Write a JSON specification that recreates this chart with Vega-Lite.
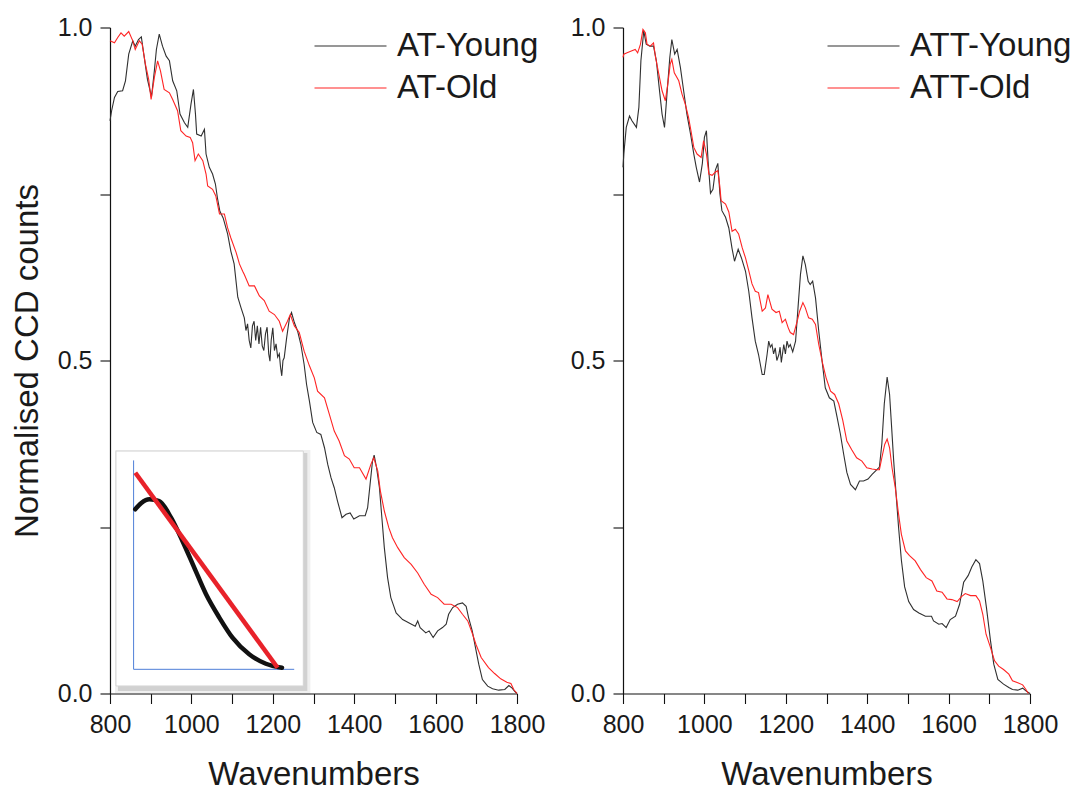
{
  "$schema": "https://vega.github.io/schema/vega-lite/v6.json",
  "background": "white",
  "padding": {"left": 11, "top": 15.5, "right": 5, "bottom": 0},
  "autosize": {"type": "pad"},
  "bounds": "flush",
  "spacing": 106,
  "datasets": {
    "at": [
      {"w":800,"v":0.86,"s":"AT-Young"},{"w":804,"v":0.875,"s":"AT-Young"},{"w":811,"v":0.895,"s":"AT-Young"},{"w":819,"v":0.904,"s":"AT-Young"},{"w":831,"v":0.905,"s":"AT-Young"},{"w":838,"v":0.92,"s":"AT-Young"},{"w":846,"v":0.96,"s":"AT-Young"},{"w":856,"v":0.98,"s":"AT-Young"},{"w":862,"v":0.972,"s":"AT-Young"},{"w":870,"v":0.982,"s":"AT-Young"},{"w":877,"v":0.986,"s":"AT-Young"},{"w":883,"v":0.96,"s":"AT-Young"},{"w":892,"v":0.922,"s":"AT-Young"},{"w":902,"v":0.896,"s":"AT-Young"},{"w":909,"v":0.935,"s":"AT-Young"},{"w":914,"v":0.967,"s":"AT-Young"},{"w":921,"v":0.99,"s":"AT-Young"},{"w":929,"v":0.972,"s":"AT-Young"},{"w":938,"v":0.957,"s":"AT-Young"},{"w":946,"v":0.95,"s":"AT-Young"},{"w":954,"v":0.92,"s":"AT-Young"},{"w":964,"v":0.905,"s":"AT-Young"},{"w":972,"v":0.87,"s":"AT-Young"},{"w":983,"v":0.857,"s":"AT-Young"},{"w":991,"v":0.85,"s":"AT-Young"},{"w":999,"v":0.885,"s":"AT-Young"},{"w":1005,"v":0.907,"s":"AT-Young"},{"w":1010,"v":0.87,"s":"AT-Young"},{"w":1013,"v":0.84,"s":"AT-Young"},{"w":1024,"v":0.837,"s":"AT-Young"},{"w":1032,"v":0.847,"s":"AT-Young"},{"w":1036,"v":0.81,"s":"AT-Young"},{"w":1044,"v":0.79,"s":"AT-Young"},{"w":1052,"v":0.78,"s":"AT-Young"},{"w":1059,"v":0.765,"s":"AT-Young"},{"w":1064,"v":0.744,"s":"AT-Young"},{"w":1070,"v":0.724,"s":"AT-Young"},{"w":1078,"v":0.714,"s":"AT-Young"},{"w":1089,"v":0.69,"s":"AT-Young"},{"w":1097,"v":0.664,"s":"AT-Young"},{"w":1105,"v":0.645,"s":"AT-Young"},{"w":1114,"v":0.595,"s":"AT-Young"},{"w":1122,"v":0.579,"s":"AT-Young"},{"w":1130,"v":0.564,"s":"AT-Young"},{"w":1134,"v":0.545,"s":"AT-Young"},{"w":1138,"v":0.555,"s":"AT-Young"},{"w":1142,"v":0.53,"s":"AT-Young"},{"w":1146,"v":0.519,"s":"AT-Young"},{"w":1150,"v":0.552,"s":"AT-Young"},{"w":1154,"v":0.559,"s":"AT-Young"},{"w":1158,"v":0.53,"s":"AT-Young"},{"w":1162,"v":0.552,"s":"AT-Young"},{"w":1166,"v":0.525,"s":"AT-Young"},{"w":1170,"v":0.55,"s":"AT-Young"},{"w":1174,"v":0.522,"s":"AT-Young"},{"w":1178,"v":0.515,"s":"AT-Young"},{"w":1182,"v":0.54,"s":"AT-Young"},{"w":1186,"v":0.55,"s":"AT-Young"},{"w":1190,"v":0.51,"s":"AT-Young"},{"w":1193,"v":0.499,"s":"AT-Young"},{"w":1196,"v":0.53,"s":"AT-Young"},{"w":1200,"v":0.549,"s":"AT-Young"},{"w":1204,"v":0.515,"s":"AT-Young"},{"w":1208,"v":0.525,"s":"AT-Young"},{"w":1212,"v":0.505,"s":"AT-Young"},{"w":1216,"v":0.51,"s":"AT-Young"},{"w":1219,"v":0.49,"s":"AT-Young"},{"w":1222,"v":0.477,"s":"AT-Young"},{"w":1225,"v":0.5,"s":"AT-Young"},{"w":1228,"v":0.504,"s":"AT-Young"},{"w":1234,"v":0.534,"s":"AT-Young"},{"w":1241,"v":0.564,"s":"AT-Young"},{"w":1246,"v":0.572,"s":"AT-Young"},{"w":1253,"v":0.557,"s":"AT-Young"},{"w":1261,"v":0.544,"s":"AT-Young"},{"w":1269,"v":0.524,"s":"AT-Young"},{"w":1277,"v":0.494,"s":"AT-Young"},{"w":1283,"v":0.464,"s":"AT-Young"},{"w":1290,"v":0.439,"s":"AT-Young"},{"w":1298,"v":0.407,"s":"AT-Young"},{"w":1308,"v":0.392,"s":"AT-Young"},{"w":1318,"v":0.389,"s":"AT-Young"},{"w":1327,"v":0.369,"s":"AT-Young"},{"w":1335,"v":0.344,"s":"AT-Young"},{"w":1343,"v":0.324,"s":"AT-Young"},{"w":1351,"v":0.309,"s":"AT-Young"},{"w":1359,"v":0.289,"s":"AT-Young"},{"w":1370,"v":0.264,"s":"AT-Young"},{"w":1380,"v":0.269,"s":"AT-Young"},{"w":1390,"v":0.271,"s":"AT-Young"},{"w":1399,"v":0.262,"s":"AT-Young"},{"w":1413,"v":0.267,"s":"AT-Young"},{"w":1427,"v":0.267,"s":"AT-Young"},{"w":1433,"v":0.279,"s":"AT-Young"},{"w":1439,"v":0.314,"s":"AT-Young"},{"w":1445,"v":0.349,"s":"AT-Young"},{"w":1449,"v":0.358,"s":"AT-Young"},{"w":1455,"v":0.339,"s":"AT-Young"},{"w":1462,"v":0.309,"s":"AT-Young"},{"w":1468,"v":0.264,"s":"AT-Young"},{"w":1474,"v":0.219,"s":"AT-Young"},{"w":1482,"v":0.174,"s":"AT-Young"},{"w":1490,"v":0.144,"s":"AT-Young"},{"w":1503,"v":0.121,"s":"AT-Young"},{"w":1519,"v":0.111,"s":"AT-Young"},{"w":1535,"v":0.106,"s":"AT-Young"},{"w":1550,"v":0.101,"s":"AT-Young"},{"w":1556,"v":0.109,"s":"AT-Young"},{"w":1562,"v":0.099,"s":"AT-Young"},{"w":1576,"v":0.091,"s":"AT-Young"},{"w":1584,"v":0.094,"s":"AT-Young"},{"w":1594,"v":0.084,"s":"AT-Young"},{"w":1605,"v":0.094,"s":"AT-Young"},{"w":1617,"v":0.099,"s":"AT-Young"},{"w":1626,"v":0.104,"s":"AT-Young"},{"w":1632,"v":0.119,"s":"AT-Young"},{"w":1642,"v":0.129,"s":"AT-Young"},{"w":1654,"v":0.134,"s":"AT-Young"},{"w":1666,"v":0.136,"s":"AT-Young"},{"w":1675,"v":0.131,"s":"AT-Young"},{"w":1681,"v":0.114,"s":"AT-Young"},{"w":1690,"v":0.094,"s":"AT-Young"},{"w":1698,"v":0.069,"s":"AT-Young"},{"w":1706,"v":0.044,"s":"AT-Young"},{"w":1715,"v":0.021,"s":"AT-Young"},{"w":1728,"v":0.011,"s":"AT-Young"},{"w":1740,"v":0.007,"s":"AT-Young"},{"w":1755,"v":0.005,"s":"AT-Young"},{"w":1770,"v":0.006,"s":"AT-Young"},{"w":1780,"v":0.012,"s":"AT-Young"},{"w":1788,"v":0.008,"s":"AT-Young"},{"w":1795,"v":0.003,"s":"AT-Young"},{"w":1800,"v":0.0,"s":"AT-Young"},
      {"w":800,"v":0.98,"s":"AT-Old"},{"w":811,"v":0.977,"s":"AT-Old"},{"w":819,"v":0.985,"s":"AT-Old"},{"w":827,"v":0.992,"s":"AT-Old"},{"w":835,"v":0.987,"s":"AT-Old"},{"w":846,"v":0.994,"s":"AT-Old"},{"w":856,"v":0.98,"s":"AT-Old"},{"w":862,"v":0.967,"s":"AT-Old"},{"w":872,"v":0.98,"s":"AT-Old"},{"w":879,"v":0.975,"s":"AT-Old"},{"w":887,"v":0.945,"s":"AT-Old"},{"w":895,"v":0.922,"s":"AT-Old"},{"w":901,"v":0.892,"s":"AT-Old"},{"w":909,"v":0.925,"s":"AT-Old"},{"w":917,"v":0.95,"s":"AT-Old"},{"w":924,"v":0.935,"s":"AT-Old"},{"w":933,"v":0.907,"s":"AT-Old"},{"w":946,"v":0.902,"s":"AT-Old"},{"w":954,"v":0.892,"s":"AT-Old"},{"w":966,"v":0.875,"s":"AT-Old"},{"w":974,"v":0.845,"s":"AT-Old"},{"w":987,"v":0.837,"s":"AT-Old"},{"w":997,"v":0.835,"s":"AT-Old"},{"w":1003,"v":0.827,"s":"AT-Old"},{"w":1009,"v":0.8,"s":"AT-Old"},{"w":1017,"v":0.81,"s":"AT-Old"},{"w":1028,"v":0.8,"s":"AT-Old"},{"w":1036,"v":0.78,"s":"AT-Old"},{"w":1040,"v":0.762,"s":"AT-Old"},{"w":1052,"v":0.757,"s":"AT-Old"},{"w":1060,"v":0.747,"s":"AT-Old"},{"w":1069,"v":0.72,"s":"AT-Old"},{"w":1081,"v":0.72,"s":"AT-Old"},{"w":1089,"v":0.699,"s":"AT-Old"},{"w":1097,"v":0.684,"s":"AT-Old"},{"w":1110,"v":0.662,"s":"AT-Old"},{"w":1118,"v":0.645,"s":"AT-Old"},{"w":1126,"v":0.634,"s":"AT-Old"},{"w":1130,"v":0.629,"s":"AT-Old"},{"w":1142,"v":0.612,"s":"AT-Old"},{"w":1155,"v":0.612,"s":"AT-Old"},{"w":1167,"v":0.597,"s":"AT-Old"},{"w":1179,"v":0.59,"s":"AT-Old"},{"w":1191,"v":0.574,"s":"AT-Old"},{"w":1204,"v":0.569,"s":"AT-Old"},{"w":1216,"v":0.559,"s":"AT-Old"},{"w":1224,"v":0.544,"s":"AT-Old"},{"w":1236,"v":0.559,"s":"AT-Old"},{"w":1243,"v":0.569,"s":"AT-Old"},{"w":1253,"v":0.552,"s":"AT-Old"},{"w":1265,"v":0.542,"s":"AT-Old"},{"w":1277,"v":0.514,"s":"AT-Old"},{"w":1290,"v":0.492,"s":"AT-Old"},{"w":1302,"v":0.474,"s":"AT-Old"},{"w":1310,"v":0.454,"s":"AT-Old"},{"w":1327,"v":0.444,"s":"AT-Old"},{"w":1339,"v":0.419,"s":"AT-Old"},{"w":1351,"v":0.394,"s":"AT-Old"},{"w":1363,"v":0.379,"s":"AT-Old"},{"w":1376,"v":0.357,"s":"AT-Old"},{"w":1388,"v":0.352,"s":"AT-Old"},{"w":1400,"v":0.339,"s":"AT-Old"},{"w":1413,"v":0.339,"s":"AT-Old"},{"w":1429,"v":0.322,"s":"AT-Old"},{"w":1441,"v":0.344,"s":"AT-Old"},{"w":1448,"v":0.354,"s":"AT-Old"},{"w":1458,"v":0.334,"s":"AT-Old"},{"w":1464,"v":0.305,"s":"AT-Old"},{"w":1474,"v":0.274,"s":"AT-Old"},{"w":1485,"v":0.249,"s":"AT-Old"},{"w":1494,"v":0.234,"s":"AT-Old"},{"w":1507,"v":0.219,"s":"AT-Old"},{"w":1523,"v":0.204,"s":"AT-Old"},{"w":1540,"v":0.194,"s":"AT-Old"},{"w":1556,"v":0.181,"s":"AT-Old"},{"w":1572,"v":0.164,"s":"AT-Old"},{"w":1589,"v":0.149,"s":"AT-Old"},{"w":1605,"v":0.144,"s":"AT-Old"},{"w":1621,"v":0.134,"s":"AT-Old"},{"w":1638,"v":0.134,"s":"AT-Old"},{"w":1654,"v":0.129,"s":"AT-Old"},{"w":1666,"v":0.119,"s":"AT-Old"},{"w":1679,"v":0.109,"s":"AT-Old"},{"w":1691,"v":0.089,"s":"AT-Old"},{"w":1699,"v":0.074,"s":"AT-Old"},{"w":1712,"v":0.054,"s":"AT-Old"},{"w":1730,"v":0.039,"s":"AT-Old"},{"w":1745,"v":0.03,"s":"AT-Old"},{"w":1760,"v":0.022,"s":"AT-Old"},{"w":1775,"v":0.017,"s":"AT-Old"},{"w":1785,"v":0.015,"s":"AT-Old"},{"w":1792,"v":0.006,"s":"AT-Old"},{"w":1800,"v":0.0,"s":"AT-Old"}
    ],
    "att": [
      {"w":800,"v":0.79,"s":"ATT-Young"},{"w":802,"v":0.81,"s":"ATT-Young"},{"w":808,"v":0.85,"s":"ATT-Young"},{"w":816,"v":0.867,"s":"ATT-Young"},{"w":822,"v":0.86,"s":"ATT-Young"},{"w":833,"v":0.85,"s":"ATT-Young"},{"w":839,"v":0.88,"s":"ATT-Young"},{"w":844,"v":0.95,"s":"ATT-Young"},{"w":851,"v":0.995,"s":"ATT-Young"},{"w":857,"v":0.975,"s":"ATT-Young"},{"w":866,"v":0.972,"s":"ATT-Young"},{"w":875,"v":0.972,"s":"ATT-Young"},{"w":882,"v":0.95,"s":"ATT-Young"},{"w":888,"v":0.915,"s":"ATT-Young"},{"w":896,"v":0.87,"s":"ATT-Young"},{"w":902,"v":0.85,"s":"ATT-Young"},{"w":908,"v":0.9,"s":"ATT-Young"},{"w":915,"v":0.955,"s":"ATT-Young"},{"w":920,"v":0.982,"s":"ATT-Young"},{"w":927,"v":0.96,"s":"ATT-Young"},{"w":933,"v":0.967,"s":"ATT-Young"},{"w":941,"v":0.94,"s":"ATT-Young"},{"w":949,"v":0.905,"s":"ATT-Young"},{"w":957,"v":0.87,"s":"ATT-Young"},{"w":966,"v":0.84,"s":"ATT-Young"},{"w":974,"v":0.81,"s":"ATT-Young"},{"w":980,"v":0.79,"s":"ATT-Young"},{"w":988,"v":0.768,"s":"ATT-Young"},{"w":995,"v":0.796,"s":"ATT-Young"},{"w":1000,"v":0.835,"s":"ATT-Young"},{"w":1005,"v":0.845,"s":"ATT-Young"},{"w":1009,"v":0.8,"s":"ATT-Young"},{"w":1015,"v":0.751,"s":"ATT-Young"},{"w":1021,"v":0.757,"s":"ATT-Young"},{"w":1027,"v":0.786,"s":"ATT-Young"},{"w":1033,"v":0.796,"s":"ATT-Young"},{"w":1038,"v":0.751,"s":"ATT-Young"},{"w":1043,"v":0.725,"s":"ATT-Young"},{"w":1052,"v":0.715,"s":"ATT-Young"},{"w":1060,"v":0.699,"s":"ATT-Young"},{"w":1068,"v":0.668,"s":"ATT-Young"},{"w":1074,"v":0.649,"s":"ATT-Young"},{"w":1083,"v":0.667,"s":"ATT-Young"},{"w":1091,"v":0.654,"s":"ATT-Young"},{"w":1101,"v":0.634,"s":"ATT-Young"},{"w":1109,"v":0.604,"s":"ATT-Young"},{"w":1117,"v":0.564,"s":"ATT-Young"},{"w":1125,"v":0.529,"s":"ATT-Young"},{"w":1133,"v":0.509,"s":"ATT-Young"},{"w":1142,"v":0.479,"s":"ATT-Young"},{"w":1147,"v":0.479,"s":"ATT-Young"},{"w":1154,"v":0.509,"s":"ATT-Young"},{"w":1158,"v":0.529,"s":"ATT-Young"},{"w":1162,"v":0.52,"s":"ATT-Young"},{"w":1166,"v":0.524,"s":"ATT-Young"},{"w":1170,"v":0.51,"s":"ATT-Young"},{"w":1174,"v":0.519,"s":"ATT-Young"},{"w":1178,"v":0.5,"s":"ATT-Young"},{"w":1183,"v":0.509,"s":"ATT-Young"},{"w":1186,"v":0.52,"s":"ATT-Young"},{"w":1189,"v":0.497,"s":"ATT-Young"},{"w":1195,"v":0.524,"s":"ATT-Young"},{"w":1199,"v":0.51,"s":"ATT-Young"},{"w":1203,"v":0.529,"s":"ATT-Young"},{"w":1207,"v":0.52,"s":"ATT-Young"},{"w":1211,"v":0.524,"s":"ATT-Young"},{"w":1217,"v":0.513,"s":"ATT-Young"},{"w":1224,"v":0.529,"s":"ATT-Young"},{"w":1230,"v":0.579,"s":"ATT-Young"},{"w":1236,"v":0.629,"s":"ATT-Young"},{"w":1242,"v":0.657,"s":"ATT-Young"},{"w":1248,"v":0.644,"s":"ATT-Young"},{"w":1255,"v":0.619,"s":"ATT-Young"},{"w":1260,"v":0.614,"s":"ATT-Young"},{"w":1266,"v":0.619,"s":"ATT-Young"},{"w":1273,"v":0.594,"s":"ATT-Young"},{"w":1281,"v":0.544,"s":"ATT-Young"},{"w":1289,"v":0.5,"s":"ATT-Young"},{"w":1297,"v":0.459,"s":"ATT-Young"},{"w":1307,"v":0.444,"s":"ATT-Young"},{"w":1318,"v":0.439,"s":"ATT-Young"},{"w":1326,"v":0.415,"s":"ATT-Young"},{"w":1334,"v":0.39,"s":"ATT-Young"},{"w":1342,"v":0.36,"s":"ATT-Young"},{"w":1350,"v":0.332,"s":"ATT-Young"},{"w":1359,"v":0.314,"s":"ATT-Young"},{"w":1371,"v":0.306,"s":"ATT-Young"},{"w":1381,"v":0.319,"s":"ATT-Young"},{"w":1391,"v":0.319,"s":"ATT-Young"},{"w":1402,"v":0.322,"s":"ATT-Young"},{"w":1412,"v":0.329,"s":"ATT-Young"},{"w":1422,"v":0.335,"s":"ATT-Young"},{"w":1430,"v":0.34,"s":"ATT-Young"},{"w":1436,"v":0.375,"s":"ATT-Young"},{"w":1442,"v":0.435,"s":"ATT-Young"},{"w":1449,"v":0.475,"s":"ATT-Young"},{"w":1455,"v":0.449,"s":"ATT-Young"},{"w":1460,"v":0.4,"s":"ATT-Young"},{"w":1465,"v":0.35,"s":"ATT-Young"},{"w":1471,"v":0.299,"s":"ATT-Young"},{"w":1477,"v":0.25,"s":"ATT-Young"},{"w":1484,"v":0.2,"s":"ATT-Young"},{"w":1492,"v":0.16,"s":"ATT-Young"},{"w":1502,"v":0.138,"s":"ATT-Young"},{"w":1514,"v":0.126,"s":"ATT-Young"},{"w":1527,"v":0.121,"s":"ATT-Young"},{"w":1543,"v":0.116,"s":"ATT-Young"},{"w":1558,"v":0.116,"s":"ATT-Young"},{"w":1563,"v":0.109,"s":"ATT-Young"},{"w":1576,"v":0.104,"s":"ATT-Young"},{"w":1584,"v":0.105,"s":"ATT-Young"},{"w":1594,"v":0.099,"s":"ATT-Young"},{"w":1604,"v":0.111,"s":"ATT-Young"},{"w":1617,"v":0.116,"s":"ATT-Young"},{"w":1627,"v":0.134,"s":"ATT-Young"},{"w":1637,"v":0.167,"s":"ATT-Young"},{"w":1648,"v":0.177,"s":"ATT-Young"},{"w":1657,"v":0.19,"s":"ATT-Young"},{"w":1667,"v":0.201,"s":"ATT-Young"},{"w":1676,"v":0.195,"s":"ATT-Young"},{"w":1684,"v":0.169,"s":"ATT-Young"},{"w":1693,"v":0.129,"s":"ATT-Young"},{"w":1703,"v":0.079,"s":"ATT-Young"},{"w":1711,"v":0.044,"s":"ATT-Young"},{"w":1721,"v":0.021,"s":"ATT-Young"},{"w":1735,"v":0.014,"s":"ATT-Young"},{"w":1748,"v":0.009,"s":"ATT-Young"},{"w":1757,"v":0.006,"s":"ATT-Young"},{"w":1770,"v":0.005,"s":"ATT-Young"},{"w":1782,"v":0.008,"s":"ATT-Young"},{"w":1790,"v":0.004,"s":"ATT-Young"},{"w":1800,"v":0.0,"s":"ATT-Young"},
      {"w":800,"v":0.955,"s":"ATT-Old"},{"w":802,"v":0.96,"s":"ATT-Old"},{"w":810,"v":0.962,"s":"ATT-Old"},{"w":822,"v":0.965,"s":"ATT-Old"},{"w":830,"v":0.967,"s":"ATT-Old"},{"w":836,"v":0.962,"s":"ATT-Old"},{"w":843,"v":0.975,"s":"ATT-Old"},{"w":849,"v":0.997,"s":"ATT-Old"},{"w":855,"v":0.992,"s":"ATT-Old"},{"w":859,"v":0.975,"s":"ATT-Old"},{"w":867,"v":0.972,"s":"ATT-Old"},{"w":875,"v":0.977,"s":"ATT-Old"},{"w":880,"v":0.955,"s":"ATT-Old"},{"w":888,"v":0.93,"s":"ATT-Old"},{"w":896,"v":0.905,"s":"ATT-Old"},{"w":904,"v":0.89,"s":"ATT-Old"},{"w":910,"v":0.915,"s":"ATT-Old"},{"w":916,"v":0.945,"s":"ATT-Old"},{"w":920,"v":0.952,"s":"ATT-Old"},{"w":926,"v":0.932,"s":"ATT-Old"},{"w":937,"v":0.92,"s":"ATT-Old"},{"w":945,"v":0.9,"s":"ATT-Old"},{"w":953,"v":0.885,"s":"ATT-Old"},{"w":961,"v":0.865,"s":"ATT-Old"},{"w":967,"v":0.845,"s":"ATT-Old"},{"w":974,"v":0.82,"s":"ATT-Old"},{"w":982,"v":0.81,"s":"ATT-Old"},{"w":992,"v":0.805,"s":"ATT-Old"},{"w":998,"v":0.83,"s":"ATT-Old"},{"w":1005,"v":0.81,"s":"ATT-Old"},{"w":1011,"v":0.78,"s":"ATT-Old"},{"w":1019,"v":0.778,"s":"ATT-Old"},{"w":1027,"v":0.783,"s":"ATT-Old"},{"w":1033,"v":0.785,"s":"ATT-Old"},{"w":1038,"v":0.761,"s":"ATT-Old"},{"w":1041,"v":0.74,"s":"ATT-Old"},{"w":1052,"v":0.735,"s":"ATT-Old"},{"w":1060,"v":0.723,"s":"ATT-Old"},{"w":1068,"v":0.694,"s":"ATT-Old"},{"w":1076,"v":0.697,"s":"ATT-Old"},{"w":1084,"v":0.69,"s":"ATT-Old"},{"w":1093,"v":0.669,"s":"ATT-Old"},{"w":1101,"v":0.654,"s":"ATT-Old"},{"w":1109,"v":0.635,"s":"ATT-Old"},{"w":1117,"v":0.615,"s":"ATT-Old"},{"w":1125,"v":0.604,"s":"ATT-Old"},{"w":1133,"v":0.602,"s":"ATT-Old"},{"w":1142,"v":0.574,"s":"ATT-Old"},{"w":1150,"v":0.579,"s":"ATT-Old"},{"w":1156,"v":0.599,"s":"ATT-Old"},{"w":1166,"v":0.577,"s":"ATT-Old"},{"w":1176,"v":0.572,"s":"ATT-Old"},{"w":1184,"v":0.574,"s":"ATT-Old"},{"w":1191,"v":0.557,"s":"ATT-Old"},{"w":1199,"v":0.562,"s":"ATT-Old"},{"w":1206,"v":0.549,"s":"ATT-Old"},{"w":1211,"v":0.542,"s":"ATT-Old"},{"w":1219,"v":0.539,"s":"ATT-Old"},{"w":1228,"v":0.559,"s":"ATT-Old"},{"w":1234,"v":0.574,"s":"ATT-Old"},{"w":1242,"v":0.587,"s":"ATT-Old"},{"w":1248,"v":0.579,"s":"ATT-Old"},{"w":1256,"v":0.564,"s":"ATT-Old"},{"w":1265,"v":0.562,"s":"ATT-Old"},{"w":1273,"v":0.554,"s":"ATT-Old"},{"w":1281,"v":0.524,"s":"ATT-Old"},{"w":1291,"v":0.494,"s":"ATT-Old"},{"w":1299,"v":0.474,"s":"ATT-Old"},{"w":1310,"v":0.454,"s":"ATT-Old"},{"w":1320,"v":0.449,"s":"ATT-Old"},{"w":1330,"v":0.435,"s":"ATT-Old"},{"w":1340,"v":0.41,"s":"ATT-Old"},{"w":1350,"v":0.379,"s":"ATT-Old"},{"w":1362,"v":0.366,"s":"ATT-Old"},{"w":1374,"v":0.354,"s":"ATT-Old"},{"w":1387,"v":0.349,"s":"ATT-Old"},{"w":1399,"v":0.339,"s":"ATT-Old"},{"w":1412,"v":0.337,"s":"ATT-Old"},{"w":1424,"v":0.336,"s":"ATT-Old"},{"w":1430,"v":0.336,"s":"ATT-Old"},{"w":1436,"v":0.354,"s":"ATT-Old"},{"w":1443,"v":0.374,"s":"ATT-Old"},{"w":1449,"v":0.382,"s":"ATT-Old"},{"w":1455,"v":0.369,"s":"ATT-Old"},{"w":1461,"v":0.339,"s":"ATT-Old"},{"w":1469,"v":0.309,"s":"ATT-Old"},{"w":1476,"v":0.274,"s":"ATT-Old"},{"w":1484,"v":0.239,"s":"ATT-Old"},{"w":1494,"v":0.214,"s":"ATT-Old"},{"w":1504,"v":0.207,"s":"ATT-Old"},{"w":1518,"v":0.199,"s":"ATT-Old"},{"w":1531,"v":0.186,"s":"ATT-Old"},{"w":1545,"v":0.174,"s":"ATT-Old"},{"w":1559,"v":0.169,"s":"ATT-Old"},{"w":1571,"v":0.154,"s":"ATT-Old"},{"w":1584,"v":0.152,"s":"ATT-Old"},{"w":1596,"v":0.142,"s":"ATT-Old"},{"w":1608,"v":0.141,"s":"ATT-Old"},{"w":1621,"v":0.138,"s":"ATT-Old"},{"w":1631,"v":0.145,"s":"ATT-Old"},{"w":1641,"v":0.15,"s":"ATT-Old"},{"w":1654,"v":0.147,"s":"ATT-Old"},{"w":1667,"v":0.147,"s":"ATT-Old"},{"w":1676,"v":0.139,"s":"ATT-Old"},{"w":1684,"v":0.119,"s":"ATT-Old"},{"w":1692,"v":0.089,"s":"ATT-Old"},{"w":1703,"v":0.069,"s":"ATT-Old"},{"w":1713,"v":0.049,"s":"ATT-Old"},{"w":1723,"v":0.041,"s":"ATT-Old"},{"w":1735,"v":0.036,"s":"ATT-Old"},{"w":1748,"v":0.029,"s":"ATT-Old"},{"w":1757,"v":0.019,"s":"ATT-Old"},{"w":1770,"v":0.016,"s":"ATT-Old"},{"w":1782,"v":0.013,"s":"ATT-Old"},{"w":1790,"v":0.006,"s":"ATT-Old"},{"w":1796,"v":0.0,"s":"ATT-Old"}
    ],
    "insetBox": [{"xa":814.7,"xb":1275,"ya":0.0113,"yb":0.364}],
    "insetAxes": [{"w":858,"v":0.35,"o":1},{"w":858,"v":0.0363,"o":2},{"w":1252.6,"v":0.0363,"o":3}],
    "insetRed": [{"w":862.2,"v":0.3315},{"w":1211.8,"v":0.0387}],
    "insetBlack": [{"w":862,"v":0.2766},{"w":877,"v":0.286},{"w":896.6,"v":0.2916},{"w":921,"v":0.289},{"w":950,"v":0.264},{"w":978,"v":0.229},{"w":1007,"v":0.189},{"w":1036,"v":0.149},{"w":1068.6,"v":0.114},{"w":1101,"v":0.0838},{"w":1142,"v":0.0589},{"w":1183,"v":0.0447},{"w":1222.6,"v":0.0387}]
  },
  "hconcat": [
    {
      "width": 407,
      "height": 666,
      "layer": [
        {
          "data": {"name": "at"},
          "mark": {"type": "line", "strokeWidth": 1.1},
          "encoding": {
            "x": {"field": "w", "type": "quantitative", "scale": {"domain": [800, 1800], "nice": false, "zero": false},
                  "axis": {"title": "Wavenumbers", "values": [800,900,1000,1100,1200,1300,1400,1500,1600,1700,1800],
                           "labelExpr": "datum.value % 200 === 0 ? datum.label : ''", "format": "d",
                           "encode": {"ticks": {"update": {"y2": {"signal": "datum.value % 200 === 0 ? 10 : 5"}}}}}},
            "y": {"field": "v", "type": "quantitative", "scale": {"domain": [0, 1], "nice": false, "zero": false},
                  "axis": {"title": "Normalised CCD counts", "values": [0, 0.25, 0.5, 0.75, 1],
                           "labelExpr": "datum.value % 0.5 === 0 ? format(datum.value, '.1f') : ''",
                           "encode": {"ticks": {"update": {"x2": {"signal": "datum.value % 0.5 === 0 ? -10 : -5"}}}}}},
            "color": {"field": "s", "type": "nominal", "scale": {"domain": ["AT-Young", "AT-Old"], "range": ["#303030", "#ff2424"]},
                      "legend": {"title": null, "orient": "none", "legendX": 224, "legendY": 2}}
          }
        },
        {
          "data": {"name": "insetBox"},
          "mark": {"type": "rect", "fill": "#7a7a7a", "opacity": 0.12, "xOffset": -1, "x2Offset": 7, "yOffset": -1, "y2Offset": 9},
          "encoding": {"x": {"field": "xa", "type": "quantitative"}, "x2": {"field": "xb"}, "y": {"field": "yb", "type": "quantitative"}, "y2": {"field": "ya"}}
        },
        {
          "data": {"name": "insetBox"},
          "mark": {"type": "rect", "fill": "#6a6a6a", "opacity": 0.22, "xOffset": 2, "x2Offset": 4, "yOffset": 2, "y2Offset": 5},
          "encoding": {"x": {"field": "xa", "type": "quantitative"}, "x2": {"field": "xb"}, "y": {"field": "yb", "type": "quantitative"}, "y2": {"field": "ya"}}
        },
        {
          "data": {"name": "insetBox"},
          "mark": {"type": "rect", "fill": "#ffffff", "stroke": "#d4d4d4", "strokeWidth": 1},
          "encoding": {"x": {"field": "xa", "type": "quantitative"}, "x2": {"field": "xb"}, "y": {"field": "yb", "type": "quantitative"}, "y2": {"field": "ya"}}
        },
        {
          "data": {"name": "insetAxes"},
          "mark": {"type": "line", "color": "#4f7fd8", "strokeWidth": 1},
          "encoding": {"x": {"field": "w", "type": "quantitative"}, "y": {"field": "v", "type": "quantitative"}, "order": {"field": "o"}}
        },
        {
          "data": {"name": "insetBlack"},
          "mark": {"type": "line", "color": "#111111", "strokeWidth": 4.5, "interpolate": "monotone", "strokeCap": "round"},
          "encoding": {"x": {"field": "w", "type": "quantitative"}, "y": {"field": "v", "type": "quantitative"}}
        },
        {
          "data": {"name": "insetRed"},
          "mark": {"type": "line", "color": "#e8222a", "strokeWidth": 4.5},
          "encoding": {"x": {"field": "w", "type": "quantitative"}, "y": {"field": "v", "type": "quantitative"}}
        }
      ]
    },
    {
      "width": 407,
      "height": 666,
      "data": {"name": "att"},
      "mark": {"type": "line", "strokeWidth": 1.1},
      "encoding": {
        "x": {"field": "w", "type": "quantitative", "scale": {"domain": [800, 1800], "nice": false, "zero": false},
              "axis": {"title": "Wavenumbers", "values": [800,900,1000,1100,1200,1300,1400,1500,1600,1700,1800],
                       "labelExpr": "datum.value % 200 === 0 ? datum.label : ''", "format": "d",
                       "encode": {"ticks": {"update": {"y2": {"signal": "datum.value % 200 === 0 ? 10 : 5"}}}}}},
        "y": {"field": "v", "type": "quantitative", "scale": {"domain": [0, 1], "nice": false, "zero": false},
              "axis": {"title": null, "values": [0, 0.25, 0.5, 0.75, 1],
                       "labelExpr": "datum.value % 0.5 === 0 ? format(datum.value, '.1f') : ''",
                       "encode": {"ticks": {"update": {"x2": {"signal": "datum.value % 0.5 === 0 ? -10 : -5"}}}}}},
        "color": {"field": "s", "type": "nominal", "scale": {"domain": ["ATT-Young", "ATT-Old"], "range": ["#303030", "#ff2424"]},
                  "legend": {"title": null, "orient": "none", "legendX": 224, "legendY": 2}}
      }
    }
  ],
  "resolve": {"scale": {"x": "independent", "y": "independent", "color": "independent"}},
  "config": {
    "view": {"stroke": null},
    "font": "Liberation Sans",
    "axis": {
      "grid": false,
      "domainColor": "#111111",
      "domainWidth": 1.2,
      "tickColor": "#111111",
      "tickWidth": 1.1,
      "tickSize": 10,
      "labelFont": "Liberation Sans",
      "labelFontSize": 25,
      "labelColor": "#1a1a1a",
      "labelFlush": false,
      "labelOverlap": false,
      "labelBound": false,
      "titleFont": "Liberation Sans",
      "titleFontSize": 33,
      "titleFontWeight": "normal",
      "titleColor": "#1a1a1a"
    },
    "axisX": {"labelPadding": 9, "titlePadding": 21},
    "axisY": {"labelPadding": 8, "titlePadding": 13},
    "legend": {
      "symbolType": "M-6,0H6",
      "symbolSize": 144,
      "symbolStrokeWidth": 1.1,
      "labelFont": "Liberation Sans",
      "labelFontSize": 33,
      "labelColor": "#1a1a1a",
      "labelOffset": 30,
      "labelLimit": 400,
      "rowPadding": 8,
      "padding": 0
    }
  }
}
